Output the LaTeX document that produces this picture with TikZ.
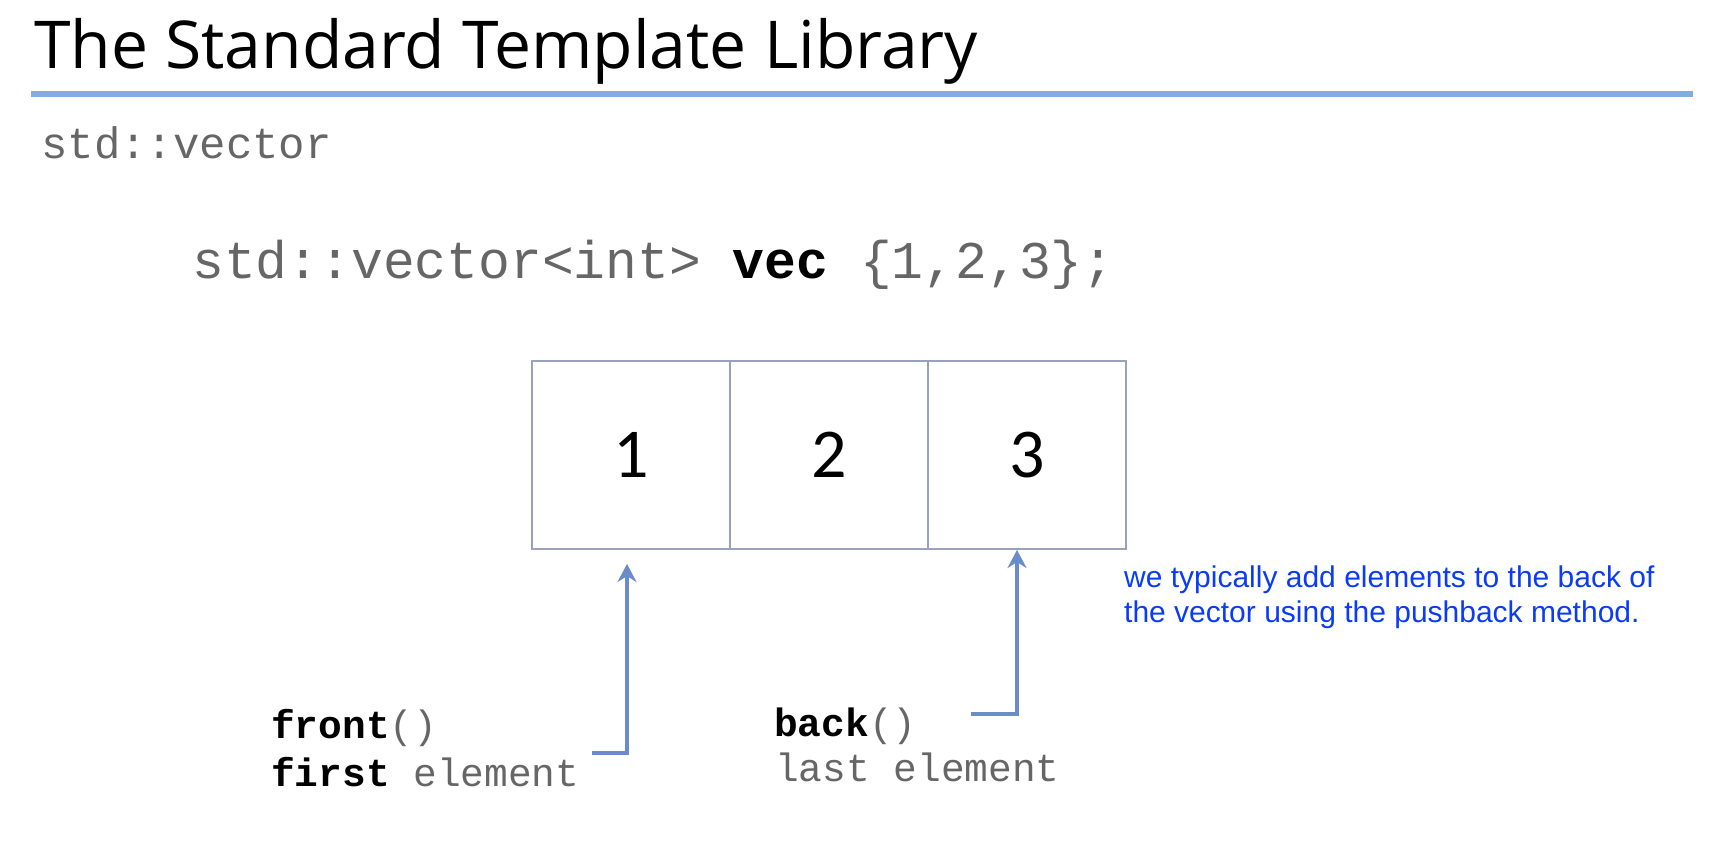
\documentclass[tikz,border=0pt]{standalone}
\usepackage{fontspec}
\usetikzlibrary{arrows.meta}
\newfontfamily\titlefont{Open Sans}
\newfontfamily\codefont{Liberation Mono}
\newfontfamily\digitfont{Carlito}
\newfontfamily\notefont{Liberation Sans}
\definecolor{rulebl}{HTML}{80AEE2}
\definecolor{cellbd}{HTML}{98A2BE}
\definecolor{ptrbl}{HTML}{6A8CCB}
\definecolor{codegr}{HTML}{666666}
\definecolor{notebl}{HTML}{0A3CF5}
\tikzset{
  txt/.style={inner sep=0pt, anchor=base west},
  cell/.style={draw=cellbd, line width=2pt, minimum width=198pt, minimum height=188pt,
    inner sep=0pt, font=\digitfont\fontsize{70}{70}\selectfont},
  ptr/.style={draw=ptrbl, line width=4pt,
    -{Stealth[length=18pt,width=19pt,inset=6pt]}},
}
\begin{document}
\begin{tikzpicture}[x=1pt,y=-1pt]
  \useasboundingbox (0,0) rectangle (1732,852);
  % heading and rule
  \node[txt, font=\titlefont\fontsize{66}{66}\selectfont] (title) at (34,68) {The Standard Template Library};
  \draw[rulebl, line width=6pt] (31,94) -- (1693,94);
  \node[txt, text=codegr, font=\codefont\fontsize{44}{44}\selectfont] (sub) at (41,158) {std::vector};
  % declaration
  \node[txt, text=codegr, font=\codefont\fontsize{53}{53}\selectfont] (decl) at (192,278)
    {std::vector<int> {\color{black}\bfseries vec} \{1,2,3\};};
  % the three elements
  \node[cell] (c1) at (631,455) {1};
  \node[cell] (c2) at (829,455) {2};
  \node[cell] (c3) at (1027,455) {3};
  % front / back pointers
  \coordinate (fa) at (592,753);
  \coordinate (ba) at (971,714);
  \draw[ptr] (fa) -| ([xshift=-4pt,yshift=-14pt]c1.south);
  \draw[ptr] (ba) -| ([xshift=-10pt]c3.south);
  \node[txt, font=\codefont\fontsize{39.5}{40}\selectfont] (front) at (271,738)
    {\bfseries front{\mdseries\color{codegr}()}};
  \node[txt, font=\codefont\fontsize{39.5}{40}\selectfont] (first) at (271,786)
    {\bfseries first {\mdseries\color{codegr}element}};
  \node[txt, font=\codefont\fontsize{39.5}{40}\selectfont] (back) at (774,736)
    {\bfseries back{\mdseries\color{codegr}()}};
  \node[txt, text=codegr, font=\codefont\fontsize{39.5}{40}\selectfont] (last) at (775,781)
    {last element};
  % note (base anchor sits on the last line)
  \node[txt, text=notebl, align=left, font=\notefont\fontsize{30}{35}\selectfont] (note) at (1124,622)
    {we typically add elements to the back of\\the vector using the pushback method.};
\end{tikzpicture}
\end{document}
